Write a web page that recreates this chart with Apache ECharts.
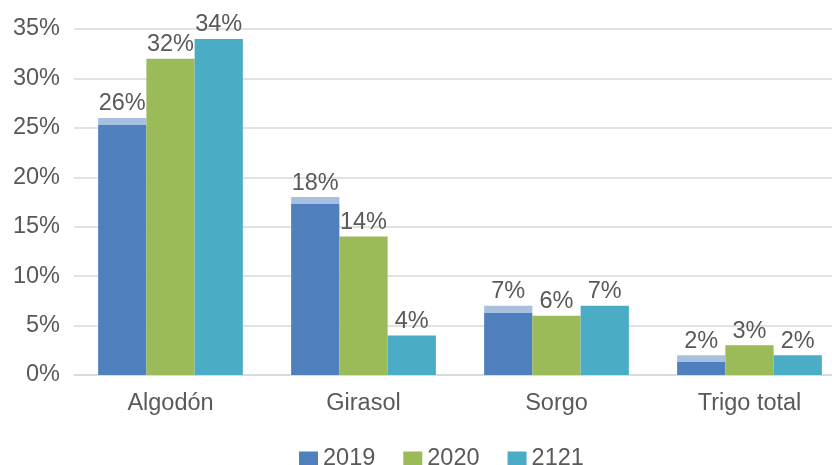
<!DOCTYPE html>
<html>
<head>
<meta charset="utf-8">
<script src="https://cdn.jsdelivr.net/npm/echarts@6/dist/echarts.min.js"></script>
<style>
  html, body { margin: 0; padding: 0; background: #fff; }
  #main { width: 832px; height: 465px; }
</style>
</head>
<body>
<div id="main"></div>
<script>
// categorias y valores (%)
var categories = ["Algodón", "Girasol", "Sorgo", "Trigo total"];
var seriesNames = ["2019", "2020", "2121"];
var data2019 = [26, 18, 7, 2];
var data2020 = [32, 14, 6, 3];
var data2121 = [34, 4, 7, 2];
var yTicks = [0, 5, 10, 15, 20, 25, 30, 35];

var colors = ["#4f7fbd", "#9bbb59", "#4bacc6"];
var txtColor = "#595959";
var fSize = 23.5;
var fFamily = "Liberation Sans, Arial, sans-serif";

var gridTop = 29, gridHeight = 346;
var pxPerUnit = gridHeight / yTicks[yTicks.length - 1];

// barra 2019 con franja clara arriba (como en el original)
function bandItems(arr) {
  return arr.map(function (v) {
    var h = v * pxPerUnit;
    var f = Math.min(7 / h, 1);
    return {
      value: v,
      itemStyle: {
        color: {
          type: "linear", x: 0, y: 0, x2: 0, y2: 1,
          colorStops: [
            { offset: 0, color: "#a8c0e0" },
            { offset: f, color: "#a8c0e0" },
            { offset: f, color: colors[0] },
            { offset: 1, color: colors[0] }
          ]
        }
      }
    };
  });
}

var labelOpt = {
  show: true,
  position: "top",
  distance: 2,
  color: txtColor,
  fontSize: fSize,
  fontFamily: fFamily,
  formatter: "{c}%"
};

var myChart = echarts.init(document.getElementById("main"));
var option = {
  animation: false,
  textStyle: { fontFamily: fFamily },
  color: colors,
  grid: {
    left: 74, top: gridTop, width: 772, height: gridHeight,
    containLabel: false, outerBoundsMode: "none"
  },
  legend: {
    data: seriesNames,
    top: 447,
    left: 299,
    padding: 0,
    itemWidth: 19,
    itemHeight: 15,
    itemGap: 28,
    icon: "rect",
    textStyle: { color: txtColor, fontSize: fSize }
  },
  xAxis: {
    type: "category",
    data: categories,
    axisLine: { lineStyle: { color: "#d9d9d9", width: 1.5 } },
    axisTick: { show: false },
    axisLabel: { color: txtColor, fontSize: fSize, margin: 17 }
  },
  yAxis: {
    type: "value",
    min: 0,
    max: 35,
    interval: 5,
    axisLine: { show: false },
    axisTick: { show: false },
    axisLabel: { color: txtColor, fontSize: fSize, margin: 14, formatter: "{value}%" },
    splitLine: { lineStyle: { color: "#d9d9d9", width: 1.5 } }
  },
  series: [
    { name: seriesNames[0], type: "bar", data: bandItems(data2019), barGap: "0%", barCategoryGap: "25%", label: labelOpt },
    { name: seriesNames[1], type: "bar", data: data2020, barGap: "0%", barCategoryGap: "25%", label: labelOpt },
    { name: seriesNames[2], type: "bar", data: data2121, barGap: "0%", barCategoryGap: "25%", label: labelOpt }
  ]
};
myChart.setOption(option);
</script>
</body>
</html>
